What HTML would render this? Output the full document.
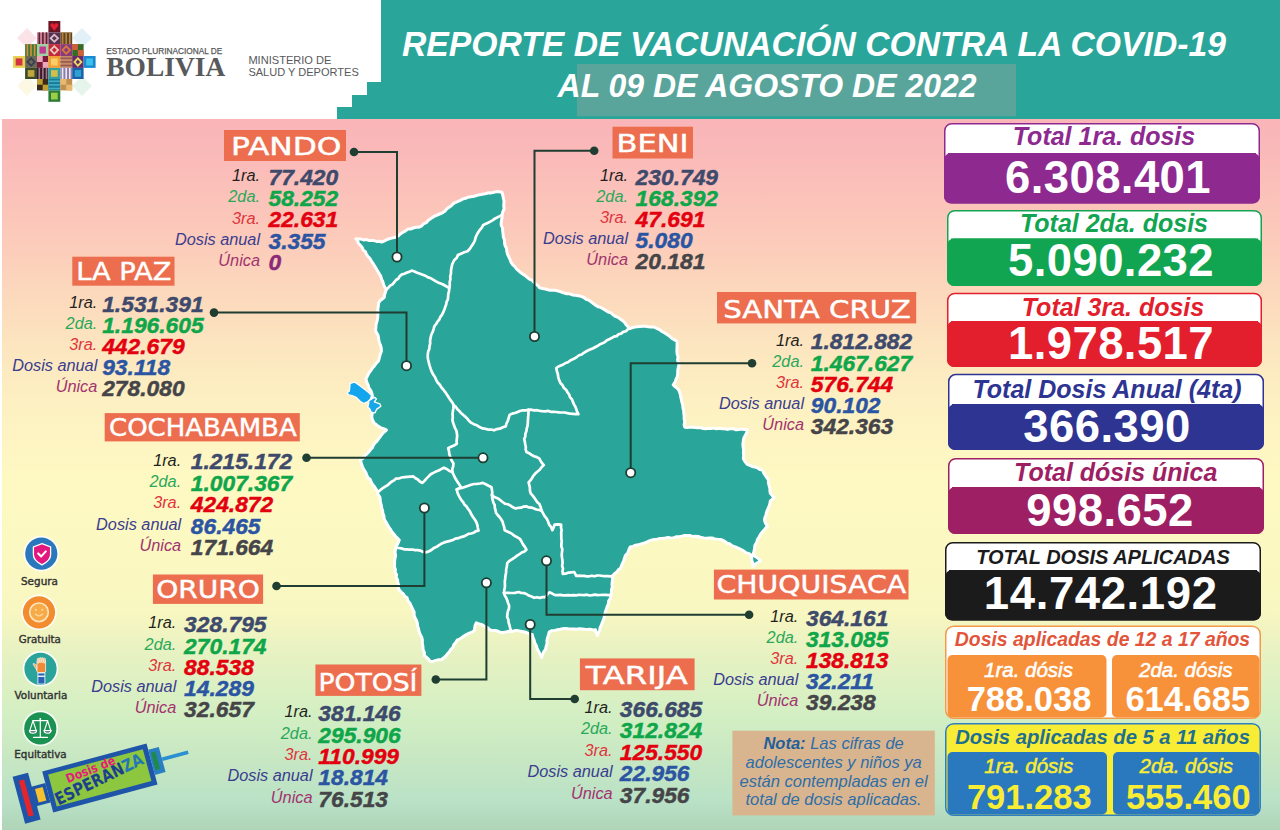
<!DOCTYPE html>
<html><head><meta charset="utf-8"><title>Reporte de Vacunación COVID-19 Bolivia</title>
<style>
html,body{margin:0;padding:0;}
body{width:1280px;height:830px;overflow:hidden;position:relative;background:#fff;font-family:"Liberation Sans",Arial,sans-serif;}
svg{position:absolute;left:0;top:0;display:block;}
</style></head><body>
<svg width="1280" height="830" viewBox="0 0 1280 830">
<defs>
<linearGradient id="bg" x1="0" y1="119" x2="0" y2="830" gradientUnits="userSpaceOnUse">
<stop offset="0" stop-color="#f9b5b8"/>
<stop offset="0.037" stop-color="#fab8b9"/>
<stop offset="0.17" stop-color="#fccbba"/>
<stop offset="0.311" stop-color="#fce4bf"/>
<stop offset="0.395" stop-color="#fdf0c2"/>
<stop offset="0.515" stop-color="#fef9c3"/>
<stop offset="0.691" stop-color="#f9f7c1"/>
<stop offset="0.744" stop-color="#e9f2c2"/>
<stop offset="0.838" stop-color="#d3efc3"/>
<stop offset="0.902" stop-color="#c7e7c3"/>
<stop offset="0.958" stop-color="#bae2c6"/>
<stop offset="1" stop-color="#afd4b8"/>
</linearGradient>
</defs>

<rect x="0" y="0" width="1280" height="830" fill="#fff"/>
<rect x="2" y="119" width="1278" height="711" fill="url(#bg)"/>
<path d="M381,0 H1280 V119 H337 V107 H352 V95 H367 V82 H381 Z" fill="#2aa59a"/>
<rect x="577" y="64" width="439" height="52.2" fill="#5da59c" opacity="0.92"/>
<text x="402" y="55.7" fill="#fff" font-family="Liberation Sans, Arial, sans-serif" font-weight="bold" font-style="italic" font-size="34.5" textLength="824" lengthAdjust="spacingAndGlyphs">REPORTE DE VACUNACIÓN CONTRA LA COVID-19</text>
<text x="557.6" y="97" fill="#fff" font-family="Liberation Sans, Arial, sans-serif" font-weight="bold" font-style="italic" font-size="32.5" textLength="419" lengthAdjust="spacingAndGlyphs">AL 09 DE AGOSTO DE 2022</text>
<g id="logo">
<rect x="20" y="31" width="14" height="14" fill="#f9d0d8" opacity="0.6" transform="rotate(45 27 38)"/>
<rect x="75" y="31" width="14" height="14" fill="#cfe6f2" opacity="0.6" transform="rotate(45 82 38)"/>
<rect x="20" y="79" width="14" height="14" fill="#fbf4d0" opacity="0.6" transform="rotate(45 27 86)"/>
<rect x="75" y="79" width="14" height="14" fill="#d6efe0" opacity="0.6" transform="rotate(45 82 86)"/>
<rect x="48.4" y="21.0" width="11.9" height="11.4" fill="#6a1525"/>
<path d="M54.3,30.7 L50.3,25.7 Q50.3,22.7 52.8,23.2 L54.3,24.7 L55.8,23.2 Q58.3,22.7 58.3,25.7 Z" fill="#e02030"/>
<rect x="37.0" y="32.4" width="11.4" height="11.7" fill="#d87a9a"/>
<rect x="38.5" y="32.4" width="1.6" height="11.7" fill="#4a2a2a"/>
<rect x="42.1" y="32.4" width="1.6" height="11.7" fill="#4a2a2a"/>
<rect x="45.7" y="32.4" width="1.6" height="11.7" fill="#4a2a2a"/>
<rect x="48.4" y="32.4" width="11.9" height="11.7" fill="#5a3050"/>
<path d="M54.3,33.4 L59.3,38.2 L54.3,43.1 L49.4,38.2 Z" fill="#d8c0c8"/>
<path d="M54.3,35.9 L56.8,38.2 L54.3,40.6 L51.9,38.2 Z" fill="#5a3050"/>
<rect x="60.3" y="32.4" width="11.9" height="11.7" fill="#5a4a2a"/>
<rect x="61.8" y="32.4" width="1.6" height="11.7" fill="#c08040"/>
<rect x="65.4" y="32.4" width="1.6" height="11.7" fill="#c08040"/>
<rect x="69.0" y="32.4" width="1.6" height="11.7" fill="#c08040"/>
<rect x="25.1" y="44.1" width="11.9" height="11.9" fill="#3a7a3a"/>
<rect x="26.6" y="44.1" width="1.6" height="11.9" fill="#e08a3a"/>
<rect x="30.2" y="44.1" width="1.6" height="11.9" fill="#e08a3a"/>
<rect x="33.8" y="44.1" width="1.6" height="11.9" fill="#e08a3a"/>
<rect x="37.0" y="44.1" width="11.4" height="11.9" fill="#9fd0a0"/>
<rect x="39.5" y="46.5" width="6.4" height="7.1" fill="#c42a90" opacity="0.9"/>
<rect x="48.4" y="44.1" width="11.9" height="11.9" fill="#c02a3a"/>
<path d="M54.3,45.1 L59.3,50.0 L54.3,55.0 L49.4,50.0 Z" fill="#ecc8b8"/>
<path d="M54.3,47.6 L56.8,50.0 L54.3,52.5 L51.9,50.0 Z" fill="#c02a3a"/>
<rect x="60.3" y="44.1" width="11.9" height="11.9" fill="#8a3a7a"/>
<path d="M66.2,45.1 L71.2,50.0 L66.2,55.0 L61.3,50.0 Z" fill="#d87a3a"/>
<path d="M66.2,47.6 L68.7,50.0 L66.2,52.5 L63.8,50.0 Z" fill="#8a3a7a"/>
<rect x="72.2" y="44.1" width="11.4" height="11.9" fill="#3a6a2a"/>
<rect x="72.2" y="44.1" width="5.7" height="5.9" fill="#d0603a"/>
<rect x="77.9" y="50.0" width="5.7" height="5.9" fill="#d0603a"/>
<rect x="13.1" y="56.0" width="12.0" height="11.9" fill="#e8d050"/>
<rect x="15.7" y="58.4" width="6.7" height="7.1" fill="#d02040" opacity="0.9"/>
<rect x="25.1" y="56.0" width="11.9" height="11.9" fill="#6a6a50"/>
<path d="M31.1,57.0 L36.0,62.0 L31.1,66.9 L26.1,62.0 Z" fill="#3a3a5a"/>
<path d="M31.1,59.5 L33.5,62.0 L31.1,64.4 L28.6,62.0 Z" fill="#6a6a50"/>
<rect x="37.0" y="56.0" width="11.4" height="11.9" fill="#7a1a3a"/>
<rect x="37.0" y="56.0" width="5.7" height="6.0" fill="#eaa8b8"/>
<rect x="42.7" y="62.0" width="5.7" height="6.0" fill="#eaa8b8"/>
<rect x="48.4" y="56.0" width="11.9" height="11.9" fill="#f0a030"/>
<rect x="51.0" y="58.4" width="6.7" height="7.1" fill="#f8d070" opacity="0.9"/>
<rect x="60.3" y="56.0" width="11.9" height="11.9" fill="#c48a70"/>
<rect x="60.3" y="57.5" width="11.9" height="1.6" fill="#9a5a4a"/>
<rect x="60.3" y="61.1" width="11.9" height="1.6" fill="#9a5a4a"/>
<rect x="60.3" y="64.7" width="11.9" height="1.6" fill="#9a5a4a"/>
<rect x="72.2" y="56.0" width="11.4" height="11.9" fill="#6a2a6a"/>
<path d="M77.9,57.0 L82.6,62.0 L77.9,66.9 L73.2,62.0 Z" fill="#e8e060"/>
<path d="M77.9,59.5 L80.1,62.0 L77.9,64.4 L75.7,62.0 Z" fill="#6a2a6a"/>
<rect x="83.6" y="56.0" width="12.0" height="11.9" fill="#1a8ad0"/>
<rect x="86.2" y="58.4" width="6.7" height="7.1" fill="#40c8ec" opacity="0.9"/>
<rect x="25.1" y="67.9" width="11.9" height="11.1" fill="#3a4a2a"/>
<rect x="27.7" y="70.1" width="6.7" height="6.7" fill="#d0b040" opacity="0.9"/>
<rect x="37.0" y="67.9" width="11.4" height="11.1" fill="#3a1a2a"/>
<rect x="38.5" y="67.9" width="1.6" height="11.1" fill="#9a7a8a"/>
<rect x="42.1" y="67.9" width="1.6" height="11.1" fill="#9a7a8a"/>
<rect x="45.7" y="67.9" width="1.6" height="11.1" fill="#9a7a8a"/>
<rect x="48.4" y="67.9" width="11.9" height="11.1" fill="#30a0a0"/>
<rect x="51.0" y="70.1" width="6.7" height="6.7" fill="#e8c040" opacity="0.9"/>
<rect x="60.3" y="67.9" width="11.9" height="11.1" fill="#8a80b0"/>
<rect x="61.8" y="67.9" width="1.6" height="11.1" fill="#f0e8f0"/>
<rect x="65.4" y="67.9" width="1.6" height="11.1" fill="#f0e8f0"/>
<rect x="69.0" y="67.9" width="1.6" height="11.1" fill="#f0e8f0"/>
<rect x="72.2" y="67.9" width="11.4" height="11.1" fill="#1a60a8"/>
<rect x="74.7" y="70.1" width="6.4" height="6.7" fill="#30a8d8" opacity="0.9"/>
<rect x="37.0" y="79.0" width="11.4" height="11.4" fill="#3a2a1a"/>
<rect x="37.0" y="79.0" width="5.7" height="5.7" fill="#c0a030"/>
<rect x="42.7" y="84.7" width="5.7" height="5.7" fill="#c0a030"/>
<rect x="48.4" y="79.0" width="11.9" height="11.4" fill="#1a7a9a"/>
<rect x="48.4" y="80.5" width="11.9" height="1.6" fill="#40b0c0"/>
<rect x="48.4" y="84.1" width="11.9" height="1.6" fill="#40b0c0"/>
<rect x="48.4" y="87.7" width="11.9" height="1.6" fill="#40b0c0"/>
<rect x="60.3" y="79.0" width="11.9" height="11.4" fill="#c09050"/>
<rect x="60.3" y="79.0" width="6.0" height="5.7" fill="#e8b870"/>
<rect x="66.2" y="84.7" width="6.0" height="5.7" fill="#e8b870"/>
<rect x="48.4" y="90.4" width="11.9" height="11.4" fill="#2a7a3a"/>
<rect x="51.0" y="92.7" width="6.7" height="6.8" fill="#a8d848" opacity="0.9"/>
</g>
<text x="106.3" y="53.7" fill="#58595b" stroke="#58595b" stroke-width="0.25" font-family="Liberation Sans, Arial, sans-serif" font-size="8.8" textLength="116" lengthAdjust="spacingAndGlyphs">ESTADO PLURINACIONAL DE</text>
<text x="106.3" y="75.9" fill="#58595b" font-family="Liberation Serif, Times New Roman, serif" font-weight="bold" font-size="28" textLength="119" lengthAdjust="spacingAndGlyphs">BOLIVIA</text>
<text x="248.4" y="64.3" fill="#58595b" font-family="Liberation Sans, Arial, sans-serif" font-size="11.3" textLength="83" lengthAdjust="spacingAndGlyphs">MINISTERIO DE</text>
<text x="248.4" y="76.3" fill="#58595b" font-family="Liberation Sans, Arial, sans-serif" font-size="11.3" textLength="110.4" lengthAdjust="spacingAndGlyphs">SALUD Y DEPORTES</text>
<polygon points="355.8,238.8 358.4,238.9 361,239.1 363.6,239.9 366.3,239.6 368.8,240.4 371.4,240.6 374.1,240.6 376.6,241.4 379.3,241.2 381.8,242 384.5,240.9 387.1,239.5 389.8,238.5 392.7,237.9 395.6,237.3 398.2,235.9 400.4,233.9 402.8,232.3 405.5,230.9 407.8,229.1 410.6,229 413.2,228 415.9,227.2 418.7,227.3 421.3,226.2 423.4,223.9 426.3,222.7 428.4,220.2 430.9,218.5 433.6,216.7 436.5,215.3 439.5,214 442.5,212.8 445,211.1 446.9,208.7 449.5,207 451.8,205.2 454,203.1 456.8,201.8 459.8,200.7 462.5,199.1 465.6,198.3 468.1,197.2 470.7,196.7 473.3,196.6 475.8,195.7 478.4,194.9 481,194.5 483.6,194.1 486.1,193.5 488.7,192.8 491.3,192.9 493.9,192.3 496.4,191.6 499.3,191.8 502.2,192.5 502.8,195.4 503.4,198.3 504.1,201.2 503.7,205.1 504.1,208.9 502.9,211.7 502.2,214.7 501.9,218.6 501.2,222.4 501.2,225.4 502.6,228.1 502.7,231.1 503.1,234 503.3,236.9 504.4,239.7 504.5,242.6 505,245.5 506.5,248.2 506.8,251.4 507.6,254.3 508.9,257.1 510.1,259.7 511.1,262.4 512.8,264.8 514.9,266.6 516.5,268.8 518.5,270.6 520.5,272.5 522.8,274.1 525.1,275.5 527.2,277.4 529.4,279.1 532,280.2 533.9,282.1 535.7,284.2 538.1,285.6 539.7,287.9 542.6,288.6 545.5,289 548.3,289.9 551.2,290.2 554.2,290.1 557.1,290.8 560.3,291.6 563.4,292.9 566.7,293.7 569.7,293.8 572.5,294.9 575.4,295.2 578.3,295.8 581.2,296.4 584,297.5 586.2,299.3 588.9,300.2 591.1,301.9 593.3,303.6 595.6,305.2 598,306.8 600.9,307.4 603.3,309 605.8,310.4 608.2,312 611,312.9 613.1,314.8 615.4,316.4 618.1,317.4 620.3,319.1 622.6,320.7 624.6,322.5 626.2,324.8 628,326.8 630.3,328.4 633.4,327.4 636.6,326.7 639.9,326.4 642.7,326.2 645.5,326.3 648.3,326.7 651.1,327 653.9,327 656.7,328.3 659.6,329.6 662,331.5 664.8,333 667.4,334.7 669.8,336.4 672,338.5 674.6,339.9 677.1,341.4 677.1,344.5 677,347.7 676.9,350.9 677.1,354 678.1,356.8 677.6,359.8 678.2,362.7 679,365.5 678.1,368.3 677.7,371.2 677.7,374.2 677.1,377.1 675.9,379.7 674.9,382.4 673.2,384.8 675,386.8 677.4,388.3 679,390.6 680.1,393.4 680.6,396.3 681.3,399.2 681.8,402.1 682.7,404.9 682.9,407.9 683.7,410.6 683.8,413.4 684.2,416.1 684.1,418.9 684.8,421.6 684.1,424.5 684.8,427.2 687.4,427.5 690.1,427.1 692.7,427.3 695.3,427.5 697.9,427.7 700.6,427.5 703.2,428.5 705.8,428.7 708.4,428.3 711.1,428.4 713.7,428.1 716.3,428.7 719.1,428.3 721.9,428.7 724.7,428.7 727.5,429.4 730.4,428.7 733.2,428.7 735.9,429.8 738.8,429.4 741.6,429 744.4,429.6 747.2,429.6 746.7,432.7 745.2,435.4 743.8,438.1 743.3,441.2 742.9,444.1 743.1,447 743.6,449.9 743.4,452.7 743.7,455.6 743.3,458.5 745,461.6 747.2,464.3 749.8,465.3 752.2,466.5 755,467 757.6,467.9 759.9,469.5 762.6,470.1 763.6,472.8 765.2,475.1 766.7,477.5 768.4,479.7 768.4,482.4 768.9,485.1 769.8,487.8 769.9,490.5 770.3,493.2 772.3,495.5 774.1,498 770.3,500.9 769.8,504 768.8,506.9 767.6,509.7 766.4,512.5 766,515.1 764.9,517.6 764.5,520.2 765.5,523.3 767.4,526 765,528.9 762.6,531.8 760.6,534.2 759.1,536.9 757.5,539.6 756.6,542.6 754.9,545.2 754.5,548.5 753.9,551.7 752.9,554.9 755.7,556.6 758.3,558.5 760.7,560.7 758,562.5 755.2,564.1 752.9,566.4 752.8,563.5 751.9,560.7 751.6,557.7 751,554.9 748.8,553.4 746.1,552.9 744,551.2 741.7,549.8 739.3,548.7 736.9,547.5 734.4,546.6 731.9,545.7 729.8,544 727.2,543.2 725.1,541.6 722.8,540.2 720.2,539.5 717.5,539.3 714.7,539 712.1,538 709.3,538 706.5,538.2 703.8,538 701,537.6 698.4,536.5 695.6,536.2 692.8,536.6 690.2,535.6 687.4,535.6 684.6,535.4 681.9,536.1 679.2,536.7 676.5,536.8 673.8,537.6 671.1,538.1 668.3,537.4 665.6,538 662.9,538.5 660.1,538.4 657.4,539.2 654.7,539.5 651.9,539.9 649.2,540.8 646.6,542.3 643.9,543.1 641.2,543.9 638.5,544.8 635.6,545.2 633,546.4 630.2,547 628.8,549.9 627.7,552.9 625.4,555.4 624.4,558.5 623.6,561 622.5,563.4 621.5,565.7 620.6,568.2 618.4,569.8 616.8,572.1 614.5,573.7 612.9,575.9 612.6,578.6 612.3,581.4 612,584.1 612.3,586.9 611.5,589.6 611.5,592.4 610.9,595.1 610.5,598.2 608.7,600.8 608.4,603.9 607.1,606.7 606.3,609.4 605.3,612 604.7,614.8 604.2,617.6 603.2,620.2 602.2,622.8 601.2,625.3 600,627.8 599.7,630.6 598.3,633 597.4,635.6 596.2,632.8 595.5,629.8 592.8,629.9 590.1,629.3 587.4,629.5 584.7,629.3 582,629 579.3,628.7 576.5,629.2 573.8,628.9 571.1,628.9 568.4,628.8 565.7,628.5 563,628.6 560.3,629.3 557.5,629.8 554.8,630.5 551.9,630.7 549.3,631.8 548.5,634.7 547.6,637.6 546.9,640.5 547,643.7 546.1,646.5 545.5,649.5 543.7,651.9 542.5,654.7 541.5,657.5 539.5,653 538.1,650.6 537,648 536.2,645.3 534.7,642.9 534.1,640.2 532.9,637.4 532.2,634.4 529.2,633.9 526.4,632.5 523.6,631.8 520.7,631.2 517.8,630.6 514.9,630.6 512.1,631.5 509.1,631.3 506.2,631.9 503.3,632.5 500.4,632.4 497.6,631.1 494.8,630.6 491.8,630.6 489.2,629.4 487.2,627.3 484.5,626.3 482.1,624.8 479.2,623.9 476.3,622.9 475.1,625.3 474.7,627.9 474.4,630.6 472,632.2 469.3,633.2 466.7,634.4 464.3,635.8 462,637.5 459.7,639 457.1,640.2 455.7,642.6 453.8,644.7 452.9,647.5 450.9,649.4 449.4,651.8 447.5,653.8 445.9,656 443.8,657.7 441.7,659.5 438.8,659.8 435.9,660.4 433.1,661.4 430.1,661.4 428.5,659.1 426.5,657.3 424.3,655.6 424.4,652.5 423.1,649.5 422.9,646.4 422.3,643.3 422.4,640.2 421.7,637.2 420.2,634.5 419.1,631.6 418.5,628.6 417.6,625.9 417.3,623 416.4,620.3 415,617.7 414.1,615 414.1,612 412.8,609.4 411.4,606.5 410.1,603.5 408,600.9 407,597.8 404.7,596.2 403.3,593.8 401.2,592.1 399.3,590.1 398.3,587.6 398.7,584.9 397.8,582.4 397.5,579.8 396.2,577.4 396.5,574.6 395.1,572.2 395.4,569.5 394.5,567 394.6,564.1 394.6,561.2 395,558.3 395.6,555.4 395,552.5 395.4,549.6 396.3,546.2 398,543.2 399.3,540 397.4,538.1 395.5,536.2 393.9,534.1 392,532.1 390.7,529.7 388.8,527.1 387.3,524.4 385.6,521.6 384.2,518.8 383.9,516 382.9,513.4 382.6,510.7 381.7,508 381.3,505.3 380.5,502.6 380.2,499.9 379.9,497.1 378,494.5 377.3,491.3 375.6,488.5 374.2,486.3 372.4,484.3 371.2,482 370.2,479.5 368,477.8 366.9,475.4 365.7,472.4 363.9,469.7 362.5,466.8 361.4,463.6 360.4,460.3 362.8,458.4 364.6,455.9 366.9,453.8 369,451.6 370.6,449.5 372.4,447.6 373.4,445.1 375,442.8 377.1,441 378.7,438.7 380.4,436.5 382,434.2 384.1,432 386.4,430 383.4,428.7 380.3,427.6 377.6,425.7 374,422.8 372.5,420 371.8,417 372.1,413.6 373.3,410.5 373.3,407.6 372.5,404.7 372.2,401.8 371.8,398.9 372.4,396 371.8,393.1 370.7,390.3 368.9,388 368.1,384.8 366.7,381.9 366,378.7 367.5,375.8 368.9,373 370.8,370.6 372.5,368 374.6,365.7 376.3,363.1 378.5,360.9 379.4,357.7 380.2,354.4 381.4,351.3 381.3,348.5 380.7,345.8 379.7,343.2 378.8,340.6 378.5,337.8 378,335.1 376.4,332.7 375.6,330.1 375.9,327.2 376.1,324.2 377,321.4 377.6,318.5 377.8,315.4 378,312.3 377.8,309.2 378.3,306.2 378.5,303.1 380,300.8 382.2,299 384.3,297.3 384.5,294.6 385.5,292.1 386.2,289.6 384.7,287.1 383.6,284.5 382.8,281.7 381.6,279.1 380.8,276.3 379.3,273.7 377.6,271.1 376.2,268.5 374.5,265.9 373,263.3 371.2,260.9 370,258.5 368,256.5 366.4,254.4 365.5,251.8 363.2,250.1 362.2,247.5 360.5,245.3 358.5,243.5 357.6,240.8" fill="#2aa59a" stroke="#fff" stroke-width="3" stroke-linejoin="round"/>
<polyline points="502.2,214.7 499.9,216.1 497.6,217.3 495.1,218.4 493,220.1 490.7,221.4 488.1,222.7 485.5,223.9 483,225.3 481.8,227.6 480.1,229.6 478.6,231.8 477.2,234 475.7,237.1 474.9,240.5 473.3,243.6 471.5,246.3 469.7,249 467.5,251.3 464.2,252.3 461,253.7 457.9,255.1 456.8,257.7 454.6,259.7 453.2,262.2 452.1,264.8 451.5,267.7 451,270.5 451,273.5 450.2,276.3 450.4,279.2 449.7,282.1 449.8,285 449.2,287.9" fill="none" stroke="#fff" stroke-width="2.7" stroke-linejoin="round" stroke-linecap="round"/>
<polyline points="449.2,287.9 446.6,286.5 444,285 441.4,283.7 438.6,282.7 435.9,281.4 433.5,279.8 430.9,278.3 428.1,277.4 425.5,275.8 422.7,274.8 420,273.8 417.2,272.8 414.5,271.6 411.7,270.6 409.4,271.8 406.9,272.6 404.5,273.7 402,274.4 399.8,276.1 398.4,278.5 396,280 394.3,282.1 392.5,284.3 390.1,285.7 388.3,287.8 386.2,289.6" fill="none" stroke="#fff" stroke-width="2.7" stroke-linejoin="round" stroke-linecap="round"/>
<polyline points="449.2,287.9 449.1,290.8 448.4,293.6 448.1,296.4 447.9,299.3 446.6,301.8 446.2,304.5 445.2,307.1 444.3,309.7 443.3,312.2 442.1,314.7 440.4,316.9 439.3,319.5 437.5,321.6 436.2,324 434.4,326.2 433.6,329.2 432.6,332 431.3,334.8 430.6,337.8 430.1,340.5 430.2,343.4 429.6,346.1 429.3,348.9 428.2,351.5 427.8,354.3 427.7,357.1 428.2,360 428.9,362.9 429.7,365.8 430.6,368.6 431.7,371.7 433.2,374.5 435.1,377.2 436.3,380.2 437.8,382.7 439.8,384.8 441.3,387.3 443.2,389.5 445,391.8 446.5,394 448,396.2 449.4,398.5 450.9,400.6 452.5,402.8 453.7,405.2" fill="none" stroke="#fff" stroke-width="2.7" stroke-linejoin="round" stroke-linecap="round"/>
<polyline points="453.7,405.2 455.9,406.9 457.4,409.2 459.4,411.1 461.1,413.2 463.3,414.9 465.4,416.7 467.3,418.6 468.9,420.8 471,422.6 473.8,424.2 476.9,425.3 479.6,427.1 482.6,428.4 485.5,428.8 488.3,429.6 491.3,429.5 494.1,430.3 496.9,429.1 500,428.7 502.8,427.3 505.7,426.4 506.5,423.5 507.9,420.7 508.7,417.8 509.6,414.9 512.1,413.6 514.8,413 517.5,412.1 520,411 522.8,410.3 525.8,410.3 528.6,409.8" fill="none" stroke="#fff" stroke-width="2.7" stroke-linejoin="round" stroke-linecap="round"/>
<polyline points="630.3,328.4 627.8,329.3 625.9,331.2 623.2,331.9 621.1,333.6 618.5,334.2 616.6,336.2 613.9,336.7 611.6,338.1 609.2,339.2 606.9,340.3 604.9,342.1 602.5,343.3 600,344.2 597.9,345.8 595.5,347 593.2,348.3 590.8,349.3 588.3,350.3 586,351.5 583.8,352.8 581.7,354.5 579.1,355.2 577,356.8 574.8,358.3 572.4,359.4 570.1,360.6 568,362.2 565.5,363 563.3,364.5 560.9,365.5 558.4,366.5 556.3,368.1 556.9,371.3 557.9,374.3 558.3,377.6 559.4,380.6 560.6,383.2 562.6,385.3 563.8,387.9 566.1,389.8 567.5,392.2 569.1,394.5 570.1,397.3 572,399.4 572.9,401.9 574,404.4 575.4,406.7 576.3,409.2 577.1,411.8 578.5,414.1 575.7,414.2 572.9,413.9 570.1,413.7 567.4,413.1 564.7,412.5 561.9,412.5 559.1,412.4 556.3,412 553.5,411.8 550.7,411.8 548,410.9 545.2,411.3 542.4,411.1 539.7,410.8 536.9,410.2 534.1,410.4 531.4,409.7 528.6,409.8" fill="none" stroke="#fff" stroke-width="2.7" stroke-linejoin="round" stroke-linecap="round"/>
<polyline points="528.6,409.8 528.5,412.5 528.3,415.2 528.1,417.9 527.9,420.6 527.8,423.3 527.5,426 526.7,428.6 526.4,431.3 525.4,433.8 525.3,436.5 524.2,439 524.8,441.6 525.2,444.2 525.8,446.7 525.7,449.4 526.4,452 529.1,453.2 531.5,454.9 534,456.3 536.9,457.1 539.4,458.6 540.6,461 542.1,463.1 543.8,465.1 541.5,467.2 539.7,469.8 537.2,471.7 535,473.8 533.3,475.9 531.9,478.2 530.4,480.4 528.6,482.4 529.3,485.1 529.9,487.8 529.9,490.6 530.7,493.3 532.5,495.4 534.2,497.6 535.8,499.9 537.3,502.2 539.4,504.1 540.7,507.3 541.6,510.6" fill="none" stroke="#fff" stroke-width="2.7" stroke-linejoin="round" stroke-linecap="round"/>
<polyline points="453.7,405.2 453.4,408.2 452.9,411.1 452.5,414 452.8,417.1 452.4,420 453.1,422.7 454,425.3 454.9,427.8 456.3,430.3 456.8,433 457.2,435.7 456.9,438.4 456.6,441.2 456.8,443.9 454,445.5 451,446.8 448.1,448.2 449,451.1 449.3,454.1 450.3,456.9 451.5,460.3 453.5,463.4 453.2,466.3 452.3,469.1 452.4,472.1" fill="none" stroke="#fff" stroke-width="2.7" stroke-linejoin="round" stroke-linecap="round"/>
<polyline points="452.4,472.1 449.4,470.9 446.7,469 443.8,467.7 441.2,469.1 438.7,470.5 435.9,471.6 433.3,472.9 430.7,474.2 428.6,476.4 426.4,478.6 424.4,480.9 422.1,482.9 419.8,481.5 417.9,479.5 415.5,478.2 413.4,476.4 410.5,476.6 407.6,476.9 404.7,477.2 401.7,477.5 398.9,478.5 396,478.6 394,480.4 391.5,481.7 389.5,483.4 387.5,485.3 385.1,486.6 382.8,488.1 380.7,489.7 378.7,491.6" fill="none" stroke="#fff" stroke-width="2.7" stroke-linejoin="round" stroke-linecap="round"/>
<polyline points="452.4,472.1 453.7,475 455.1,478 456.8,480.7 458.9,484 461.1,487.2 456.8,489.4" fill="none" stroke="#fff" stroke-width="2.7" stroke-linejoin="round" stroke-linecap="round"/>
<polyline points="456.8,489.4 457.5,492.8 458.9,495.9 460.2,498.2 461.6,500.4 463.3,502.4 464.6,504.8 466.7,506.6 468.1,509 469.8,511.1 471.1,514 472.8,516.7 474.6,519.3 476.3,522 477.3,524.8 477.8,527.7 478.5,530.6 475.9,531.1 473.7,532.8 471.1,533.5 468.4,533.9 466.1,535.3 463.7,536.4 461.1,537.1 458.4,538.2 455.4,538.6 452.8,540 450,540.9 447.1,541.6 444.3,542.4 441.6,543.6 439.1,545.1 436.7,546.8 434,547.9 431.7,549.8 429.1,551.2 426.4,552.3 423.4,551.9 420.6,550.7 417.7,550.2 415,550.1 412.3,549.5 409.5,549.7 406.8,549.4 404.1,549.3 401.4,548.4 398.7,548 396,548" fill="none" stroke="#fff" stroke-width="2.7" stroke-linejoin="round" stroke-linecap="round"/>
<polyline points="456.8,489.4 459.6,488.2 462.6,487.8 465.5,486.8 468.3,485.8 471.1,484.7 474.1,484 477,483.9 479.9,483.5 482.8,482.9 485.7,484.3 488.6,485.8 491.5,487.2 491.9,489.8 492.3,492.4 492,495" fill="none" stroke="#fff" stroke-width="2.7" stroke-linejoin="round" stroke-linecap="round"/>
<polyline points="492,495 494.4,497.1 497.4,498.2 500.1,499.9 502.5,502 504.9,503.7 507.9,504.3 510.5,505.6 512.9,507.3 515.6,508.5 518.3,507.8 521.1,507.7 523.7,506.6 526.4,506.3 528.8,507.4 531.5,507.6 534,508.5 536.4,509.5 539,510 541.6,510.6" fill="none" stroke="#fff" stroke-width="2.7" stroke-linejoin="round" stroke-linecap="round"/>
<polyline points="492,495 492.2,497.6 492.7,500.2 493.4,502.7 494.7,505.1 494.8,507.7 495.5,510.2 496,512.8 497.6,515 499.5,517 501.1,519.2 502.5,521.5 503.3,524.4 504.2,527.2 504.7,530.2 507.3,531.6 510,532.7 512.5,534.2 514.7,536.1 517.4,537.3 519.9,538.8 521.5,541.5 523,544.4 524.9,546.9 526.4,549.7 524.3,551.6 521.7,552.5 519.5,554.2 517.1,555.7 514.9,557.3 512.3,559.1 509.5,560.8 507.2,563.1 506.9,566.2 506.2,569.2 506.1,572.4 505.5,575.4 505.2,578.5 504.8,581.4 504.9,584.3 504.9,587.2 504.3,590.1 504,593" fill="none" stroke="#fff" stroke-width="2.7" stroke-linejoin="round" stroke-linecap="round"/>
<polyline points="541.6,510.6 543.1,513.4 544.6,516.2 546.7,518.6 548.1,521.5 549.1,524.6 551.2,527.2 552.4,530.2 553.6,527.5 554.6,524.7 557.9,524.3 561.1,524.7 561,527.4 561.6,530.2 561.2,532.9 561.3,535.6 561.3,538.4 561.7,541.1 561.4,543.8 561.4,546.6 562.3,549.3 562,552 561.7,554.8 562,557.5 562.4,560.2 562.6,563 562.1,565.7 563,568.4 562.5,571.2 562.8,573.9 565.7,573.7 568.5,572.6 571.4,572.3 574.3,572 576.2,575.9 578.8,575.7 581.4,575.9 584.1,575.8 586.7,576.3 589.3,576.3 591.9,575.7 594.5,576.3 597.2,575.5 599.8,575.5 602.4,576 605,576.2 607.7,576.2 610.3,576.3 612.9,575.9" fill="none" stroke="#fff" stroke-width="2.7" stroke-linejoin="round" stroke-linecap="round"/>
<polyline points="504,593 507.5,592.9 511,593 514.9,592.9 518.7,592 521.2,593 523.9,593.1 526.4,594 528.8,595.6 531.5,596.6 534.1,597.8 536.9,597.2 539.8,597.9 542.6,597.1 545.4,597.1 547.2,594.6 549.3,592.3 552.2,593.6 555,595.1 557.7,595.2 560.3,594.8 563,595.3 565.6,595.4 568.3,595.1 571,595.4 573.6,595.2 576.3,595.4 579,594.8 581.6,595 584.3,595.1 586.9,594.7 589.6,595.5 592.3,595.2 594.9,594.7 597.6,595.2 600.3,595 602.9,594.8 605.6,594.8 608.2,595.1 610.9,595.1" fill="none" stroke="#fff" stroke-width="2.7" stroke-linejoin="round" stroke-linecap="round"/>
<polyline points="504,593 504.8,595.6 506.3,597.9 507.3,600.4 508,603 509.1,605.5 509,608.5 507.9,611.3 507.4,614.2 507.2,617.1 508.4,619.7 508.6,622.5 509.5,625.2 510.1,627.9 511,630.6" fill="none" stroke="#fff" stroke-width="2.7" stroke-linejoin="round" stroke-linecap="round"/>
<polygon points="368.9,400.7 374.7,397.3 376.5,398.9 374.3,401.8 379.8,403.8 380.9,406.2 376.5,409.4 375.1,412.8 371.1,412.1 369.6,408.5 367.8,407.2 368.6,404" fill="#17a6ea" stroke="#fff" stroke-width="1.3" stroke-linejoin="round"/>
<polygon points="350.1,383.4 354.5,382.1 358.1,384.5 363.9,388.8 368.9,392.8 371.5,395.7 370.4,398.9 367.5,401.8 363.9,403.4 360.2,401.2 356.6,397.6 352.3,395.5 348.7,394.9 347.2,392.8 349.4,391 349.8,387.4" fill="#14a6ec" stroke="#fff" stroke-width="1.2" stroke-linejoin="round"/>
<polyline points="354,152 397,152 397,257" fill="none" stroke="#1f3d31" stroke-width="2"/>
<circle cx="354" cy="152" r="4.3" fill="#1f3d31"/>
<circle cx="397" cy="257" r="4.6" fill="#fff" stroke="#1f3d31" stroke-width="1.8"/>
<polyline points="594.2,150.8 534.5,150.8 534.5,336.5" fill="none" stroke="#1f3d31" stroke-width="2"/>
<circle cx="594.2" cy="150.8" r="4.3" fill="#1f3d31"/>
<circle cx="534.5" cy="336.5" r="4.6" fill="#fff" stroke="#1f3d31" stroke-width="1.8"/>
<polyline points="214,312.6 406.5,312.6 406.5,365.7" fill="none" stroke="#1f3d31" stroke-width="2"/>
<circle cx="214" cy="312.6" r="4.3" fill="#1f3d31"/>
<circle cx="406.5" cy="365.7" r="4.6" fill="#fff" stroke="#1f3d31" stroke-width="1.8"/>
<polyline points="306.5,457.8 483,457.8" fill="none" stroke="#1f3d31" stroke-width="2"/>
<circle cx="306.5" cy="457.8" r="4.3" fill="#1f3d31"/>
<circle cx="483" cy="457.8" r="4.6" fill="#fff" stroke="#1f3d31" stroke-width="1.8"/>
<polyline points="276.5,586 424.4,586 424.4,508" fill="none" stroke="#1f3d31" stroke-width="2"/>
<circle cx="276.5" cy="586" r="4.3" fill="#1f3d31"/>
<circle cx="424.4" cy="508" r="4.6" fill="#fff" stroke="#1f3d31" stroke-width="1.8"/>
<polyline points="435.8,679.5 486.4,679.5 486.4,582.8" fill="none" stroke="#1f3d31" stroke-width="2"/>
<circle cx="435.8" cy="679.5" r="4.3" fill="#1f3d31"/>
<circle cx="486.4" cy="582.8" r="4.6" fill="#fff" stroke="#1f3d31" stroke-width="1.8"/>
<polyline points="752,363.2 630.7,363.2 630.7,472.7" fill="none" stroke="#1f3d31" stroke-width="2"/>
<circle cx="752" cy="363.2" r="4.3" fill="#1f3d31"/>
<circle cx="630.7" cy="472.7" r="4.6" fill="#fff" stroke="#1f3d31" stroke-width="1.8"/>
<polyline points="749.1,614.8 546.5,614.8 546.5,560.8" fill="none" stroke="#1f3d31" stroke-width="2"/>
<circle cx="749.1" cy="614.8" r="4.3" fill="#1f3d31"/>
<circle cx="546.5" cy="560.8" r="4.6" fill="#fff" stroke="#1f3d31" stroke-width="1.8"/>
<polyline points="574.7,699 530.2,699 530.2,624.5" fill="none" stroke="#1f3d31" stroke-width="2"/>
<circle cx="574.7" cy="699" r="4.3" fill="#1f3d31"/>
<circle cx="530.2" cy="624.5" r="4.6" fill="#fff" stroke="#1f3d31" stroke-width="1.8"/>
<rect x="224" y="130" width="122.0" height="31.0" fill="#ec6e4e"/>
<text x="231.0" y="155" fill="#fff" stroke="#fff" stroke-width="0.45" font-family="DejaVu Sans, Verdana, sans-serif" font-size="25" textLength="110.5" lengthAdjust="spacingAndGlyphs">PANDO</text>
<text x="260" y="181.1" text-anchor="end" fill="#231f20" font-family="Liberation Sans, Arial, sans-serif" font-style="italic" font-size="16.3">1ra.</text>
<text x="268.5" y="185.0" fill="#3e4a6c" stroke="#3e4a6c" stroke-width="0.45" font-family="Liberation Sans, Arial, sans-serif" font-style="italic" font-weight="bold" font-size="22.8">77.420</text>
<text x="260" y="202.3" text-anchor="end" fill="#2aa85a" font-family="Liberation Sans, Arial, sans-serif" font-style="italic" font-size="16.3">2da.</text>
<text x="268.5" y="206.2" fill="#0fa64a" stroke="#0fa64a" stroke-width="0.45" font-family="Liberation Sans, Arial, sans-serif" font-style="italic" font-weight="bold" font-size="22.8">58.252</text>
<text x="260" y="223.5" text-anchor="end" fill="#e0343c" font-family="Liberation Sans, Arial, sans-serif" font-style="italic" font-size="16.3">3ra.</text>
<text x="268.5" y="227.4" fill="#e3000f" stroke="#e3000f" stroke-width="0.45" font-family="Liberation Sans, Arial, sans-serif" font-style="italic" font-weight="bold" font-size="22.8">22.631</text>
<text x="260" y="244.7" text-anchor="end" fill="#3a3d8f" font-family="Liberation Sans, Arial, sans-serif" font-style="italic" font-size="16.3">Dosis anual</text>
<text x="268.5" y="248.6" fill="#2b55a3" stroke="#2b55a3" stroke-width="0.45" font-family="Liberation Sans, Arial, sans-serif" font-style="italic" font-weight="bold" font-size="22.8">3.355</text>
<text x="260" y="265.9" text-anchor="end" fill="#a3336f" font-family="Liberation Sans, Arial, sans-serif" font-style="italic" font-size="16.3">Única</text>
<text x="268.5" y="269.8" fill="#8b2a78" stroke="#8b2a78" stroke-width="0.45" font-family="Liberation Sans, Arial, sans-serif" font-style="italic" font-weight="bold" font-size="22.8">0</text>
<rect x="612.5" y="126.7" width="80.5" height="31.8" fill="#ec6e4e"/>
<text x="616.5" y="151.8" fill="#fff" stroke="#fff" stroke-width="0.45" font-family="DejaVu Sans, Verdana, sans-serif" font-size="25" textLength="72.0" lengthAdjust="spacingAndGlyphs">BENI</text>
<text x="628" y="180.6" text-anchor="end" fill="#231f20" font-family="Liberation Sans, Arial, sans-serif" font-style="italic" font-size="16.3">1ra.</text>
<text x="635.6" y="184.5" fill="#3e4a6c" stroke="#3e4a6c" stroke-width="0.45" font-family="Liberation Sans, Arial, sans-serif" font-style="italic" font-weight="bold" font-size="22.8">230.749</text>
<text x="628" y="201.8" text-anchor="end" fill="#2aa85a" font-family="Liberation Sans, Arial, sans-serif" font-style="italic" font-size="16.3">2da.</text>
<text x="635.6" y="205.7" fill="#0fa64a" stroke="#0fa64a" stroke-width="0.45" font-family="Liberation Sans, Arial, sans-serif" font-style="italic" font-weight="bold" font-size="22.8">168.392</text>
<text x="628" y="223.0" text-anchor="end" fill="#e0343c" font-family="Liberation Sans, Arial, sans-serif" font-style="italic" font-size="16.3">3ra.</text>
<text x="635.6" y="226.9" fill="#e3000f" stroke="#e3000f" stroke-width="0.45" font-family="Liberation Sans, Arial, sans-serif" font-style="italic" font-weight="bold" font-size="22.8">47.691</text>
<text x="628" y="244.2" text-anchor="end" fill="#3a3d8f" font-family="Liberation Sans, Arial, sans-serif" font-style="italic" font-size="16.3">Dosis anual</text>
<text x="635.6" y="248.1" fill="#2b55a3" stroke="#2b55a3" stroke-width="0.45" font-family="Liberation Sans, Arial, sans-serif" font-style="italic" font-weight="bold" font-size="22.8">5.080</text>
<text x="628" y="265.4" text-anchor="end" fill="#a3336f" font-family="Liberation Sans, Arial, sans-serif" font-style="italic" font-size="16.3">Única</text>
<text x="635.6" y="269.3" fill="#454549" stroke="#454549" stroke-width="0.45" font-family="Liberation Sans, Arial, sans-serif" font-style="italic" font-weight="bold" font-size="22.8">20.181</text>
<rect x="72.3" y="256.7" width="102.2" height="29.0" fill="#ec6e4e"/>
<text x="76.2" y="279.9" fill="#fff" stroke="#fff" stroke-width="0.45" font-family="DejaVu Sans, Verdana, sans-serif" font-size="25" textLength="95.2" lengthAdjust="spacingAndGlyphs">LA PAZ</text>
<text x="97.3" y="308.2" text-anchor="end" fill="#231f20" font-family="Liberation Sans, Arial, sans-serif" font-style="italic" font-size="16.3">1ra.</text>
<text x="102.2" y="312.1" fill="#3e4a6c" stroke="#3e4a6c" stroke-width="0.45" font-family="Liberation Sans, Arial, sans-serif" font-style="italic" font-weight="bold" font-size="22.8">1.531.391</text>
<text x="97.3" y="329.2" text-anchor="end" fill="#2aa85a" font-family="Liberation Sans, Arial, sans-serif" font-style="italic" font-size="16.3">2da.</text>
<text x="102.2" y="333.1" fill="#0fa64a" stroke="#0fa64a" stroke-width="0.45" font-family="Liberation Sans, Arial, sans-serif" font-style="italic" font-weight="bold" font-size="22.8">1.196.605</text>
<text x="97.3" y="350.2" text-anchor="end" fill="#e0343c" font-family="Liberation Sans, Arial, sans-serif" font-style="italic" font-size="16.3">3ra.</text>
<text x="102.2" y="354.1" fill="#e3000f" stroke="#e3000f" stroke-width="0.45" font-family="Liberation Sans, Arial, sans-serif" font-style="italic" font-weight="bold" font-size="22.8">442.679</text>
<text x="97.3" y="371.2" text-anchor="end" fill="#3a3d8f" font-family="Liberation Sans, Arial, sans-serif" font-style="italic" font-size="16.3">Dosis anual</text>
<text x="102.2" y="375.1" fill="#2b55a3" stroke="#2b55a3" stroke-width="0.45" font-family="Liberation Sans, Arial, sans-serif" font-style="italic" font-weight="bold" font-size="22.8">93.118</text>
<text x="97.3" y="392.2" text-anchor="end" fill="#a3336f" font-family="Liberation Sans, Arial, sans-serif" font-style="italic" font-size="16.3">Única</text>
<text x="102.2" y="396.1" fill="#454549" stroke="#454549" stroke-width="0.45" font-family="Liberation Sans, Arial, sans-serif" font-style="italic" font-weight="bold" font-size="22.8">278.080</text>
<rect x="104.7" y="413.1" width="195.1" height="28.3" fill="#ec6e4e"/>
<text x="109.0" y="435.7" fill="#fff" stroke="#fff" stroke-width="0.45" font-family="DejaVu Sans, Verdana, sans-serif" font-size="25" textLength="187.7" lengthAdjust="spacingAndGlyphs">COCHABAMBA</text>
<text x="181.2" y="465.5" text-anchor="end" fill="#231f20" font-family="Liberation Sans, Arial, sans-serif" font-style="italic" font-size="16.3">1ra.</text>
<text x="190.8" y="469.4" fill="#3e4a6c" stroke="#3e4a6c" stroke-width="0.45" font-family="Liberation Sans, Arial, sans-serif" font-style="italic" font-weight="bold" font-size="22.8">1.215.172</text>
<text x="181.2" y="486.9" text-anchor="end" fill="#2aa85a" font-family="Liberation Sans, Arial, sans-serif" font-style="italic" font-size="16.3">2da.</text>
<text x="190.8" y="490.8" fill="#0fa64a" stroke="#0fa64a" stroke-width="0.45" font-family="Liberation Sans, Arial, sans-serif" font-style="italic" font-weight="bold" font-size="22.8">1.007.367</text>
<text x="181.2" y="508.3" text-anchor="end" fill="#e0343c" font-family="Liberation Sans, Arial, sans-serif" font-style="italic" font-size="16.3">3ra.</text>
<text x="190.8" y="512.2" fill="#e3000f" stroke="#e3000f" stroke-width="0.45" font-family="Liberation Sans, Arial, sans-serif" font-style="italic" font-weight="bold" font-size="22.8">424.872</text>
<text x="181.2" y="529.7" text-anchor="end" fill="#3a3d8f" font-family="Liberation Sans, Arial, sans-serif" font-style="italic" font-size="16.3">Dosis anual</text>
<text x="190.8" y="533.6" fill="#2b55a3" stroke="#2b55a3" stroke-width="0.45" font-family="Liberation Sans, Arial, sans-serif" font-style="italic" font-weight="bold" font-size="22.8">86.465</text>
<text x="181.2" y="551.1" text-anchor="end" fill="#a3336f" font-family="Liberation Sans, Arial, sans-serif" font-style="italic" font-size="16.3">Única</text>
<text x="190.8" y="555.0" fill="#454549" stroke="#454549" stroke-width="0.45" font-family="Liberation Sans, Arial, sans-serif" font-style="italic" font-weight="bold" font-size="22.8">171.664</text>
<rect x="152.9" y="574.5" width="110.2" height="29.4" fill="#ec6e4e"/>
<text x="156.2" y="597.6" fill="#fff" stroke="#fff" stroke-width="0.45" font-family="DejaVu Sans, Verdana, sans-serif" font-size="25" textLength="103.8" lengthAdjust="spacingAndGlyphs">ORURO</text>
<text x="176.3" y="628.4" text-anchor="end" fill="#231f20" font-family="Liberation Sans, Arial, sans-serif" font-style="italic" font-size="16.3">1ra.</text>
<text x="184.1" y="632.3" fill="#3e4a6c" stroke="#3e4a6c" stroke-width="0.45" font-family="Liberation Sans, Arial, sans-serif" font-style="italic" font-weight="bold" font-size="22.8">328.795</text>
<text x="176.3" y="649.6" text-anchor="end" fill="#2aa85a" font-family="Liberation Sans, Arial, sans-serif" font-style="italic" font-size="16.3">2da.</text>
<text x="184.1" y="653.5" fill="#0fa64a" stroke="#0fa64a" stroke-width="0.45" font-family="Liberation Sans, Arial, sans-serif" font-style="italic" font-weight="bold" font-size="22.8">270.174</text>
<text x="176.3" y="670.8" text-anchor="end" fill="#e0343c" font-family="Liberation Sans, Arial, sans-serif" font-style="italic" font-size="16.3">3ra.</text>
<text x="184.1" y="674.7" fill="#e3000f" stroke="#e3000f" stroke-width="0.45" font-family="Liberation Sans, Arial, sans-serif" font-style="italic" font-weight="bold" font-size="22.8">88.538</text>
<text x="176.3" y="692.0" text-anchor="end" fill="#3a3d8f" font-family="Liberation Sans, Arial, sans-serif" font-style="italic" font-size="16.3">Dosis anual</text>
<text x="184.1" y="695.9" fill="#2b55a3" stroke="#2b55a3" stroke-width="0.45" font-family="Liberation Sans, Arial, sans-serif" font-style="italic" font-weight="bold" font-size="22.8">14.289</text>
<text x="176.3" y="713.2" text-anchor="end" fill="#a3336f" font-family="Liberation Sans, Arial, sans-serif" font-style="italic" font-size="16.3">Única</text>
<text x="184.1" y="717.1" fill="#454549" stroke="#454549" stroke-width="0.45" font-family="Liberation Sans, Arial, sans-serif" font-style="italic" font-weight="bold" font-size="22.8">32.657</text>
<rect x="315.4" y="664.5" width="106.0" height="31.4" fill="#ec6e4e"/>
<text x="318.4" y="690.5" fill="#fff" stroke="#fff" stroke-width="0.45" font-family="DejaVu Sans, Verdana, sans-serif" font-size="25" textLength="99.0" lengthAdjust="spacingAndGlyphs">POTOSÍ</text>
<text x="312.5" y="717.4" text-anchor="end" fill="#231f20" font-family="Liberation Sans, Arial, sans-serif" font-style="italic" font-size="16.3">1ra.</text>
<text x="318.3" y="721.3" fill="#3e4a6c" stroke="#3e4a6c" stroke-width="0.45" font-family="Liberation Sans, Arial, sans-serif" font-style="italic" font-weight="bold" font-size="22.8">381.146</text>
<text x="312.5" y="738.7" text-anchor="end" fill="#2aa85a" font-family="Liberation Sans, Arial, sans-serif" font-style="italic" font-size="16.3">2da.</text>
<text x="318.3" y="742.6" fill="#0fa64a" stroke="#0fa64a" stroke-width="0.45" font-family="Liberation Sans, Arial, sans-serif" font-style="italic" font-weight="bold" font-size="22.8">295.906</text>
<text x="312.5" y="760.0" text-anchor="end" fill="#e0343c" font-family="Liberation Sans, Arial, sans-serif" font-style="italic" font-size="16.3">3ra.</text>
<text x="318.3" y="763.9" fill="#e3000f" stroke="#e3000f" stroke-width="0.45" font-family="Liberation Sans, Arial, sans-serif" font-style="italic" font-weight="bold" font-size="22.8">110.999</text>
<text x="312.5" y="781.3" text-anchor="end" fill="#3a3d8f" font-family="Liberation Sans, Arial, sans-serif" font-style="italic" font-size="16.3">Dosis anual</text>
<text x="318.3" y="785.2" fill="#2b55a3" stroke="#2b55a3" stroke-width="0.45" font-family="Liberation Sans, Arial, sans-serif" font-style="italic" font-weight="bold" font-size="22.8">18.814</text>
<text x="312.5" y="802.6" text-anchor="end" fill="#a3336f" font-family="Liberation Sans, Arial, sans-serif" font-style="italic" font-size="16.3">Única</text>
<text x="318.3" y="806.5" fill="#454549" stroke="#454549" stroke-width="0.45" font-family="Liberation Sans, Arial, sans-serif" font-style="italic" font-weight="bold" font-size="22.8">76.513</text>
<rect x="717" y="292" width="199.2" height="31.4" fill="#ec6e4e"/>
<text x="723.2" y="317.6" fill="#fff" stroke="#fff" stroke-width="0.45" font-family="DejaVu Sans, Verdana, sans-serif" font-size="25" textLength="187.6" lengthAdjust="spacingAndGlyphs">SANTA CRUZ</text>
<text x="804" y="345.5" text-anchor="end" fill="#231f20" font-family="Liberation Sans, Arial, sans-serif" font-style="italic" font-size="16.3">1ra.</text>
<text x="810.8" y="349.4" fill="#3e4a6c" stroke="#3e4a6c" stroke-width="0.45" font-family="Liberation Sans, Arial, sans-serif" font-style="italic" font-weight="bold" font-size="22.8">1.812.882</text>
<text x="804" y="366.7" text-anchor="end" fill="#2aa85a" font-family="Liberation Sans, Arial, sans-serif" font-style="italic" font-size="16.3">2da.</text>
<text x="810.8" y="370.6" fill="#0fa64a" stroke="#0fa64a" stroke-width="0.45" font-family="Liberation Sans, Arial, sans-serif" font-style="italic" font-weight="bold" font-size="22.8">1.467.627</text>
<text x="804" y="387.9" text-anchor="end" fill="#e0343c" font-family="Liberation Sans, Arial, sans-serif" font-style="italic" font-size="16.3">3ra.</text>
<text x="810.8" y="391.8" fill="#e3000f" stroke="#e3000f" stroke-width="0.45" font-family="Liberation Sans, Arial, sans-serif" font-style="italic" font-weight="bold" font-size="22.8">576.744</text>
<text x="804" y="409.1" text-anchor="end" fill="#3a3d8f" font-family="Liberation Sans, Arial, sans-serif" font-style="italic" font-size="16.3">Dosis anual</text>
<text x="810.8" y="413.0" fill="#2b55a3" stroke="#2b55a3" stroke-width="0.45" font-family="Liberation Sans, Arial, sans-serif" font-style="italic" font-weight="bold" font-size="22.8">90.102</text>
<text x="804" y="430.3" text-anchor="end" fill="#a3336f" font-family="Liberation Sans, Arial, sans-serif" font-style="italic" font-size="16.3">Única</text>
<text x="810.8" y="434.2" fill="#454549" stroke="#454549" stroke-width="0.45" font-family="Liberation Sans, Arial, sans-serif" font-style="italic" font-weight="bold" font-size="22.8">342.363</text>
<rect x="713.9" y="569.6" width="194.6" height="29.9" fill="#ec6e4e"/>
<text x="716.5" y="592.8" fill="#fff" stroke="#fff" stroke-width="0.45" font-family="DejaVu Sans, Verdana, sans-serif" font-size="25" textLength="189.5" lengthAdjust="spacingAndGlyphs">CHUQUISACA</text>
<text x="798.3" y="621.6" text-anchor="end" fill="#231f20" font-family="Liberation Sans, Arial, sans-serif" font-style="italic" font-size="16.3">1ra.</text>
<text x="806" y="625.5" fill="#3e4a6c" stroke="#3e4a6c" stroke-width="0.45" font-family="Liberation Sans, Arial, sans-serif" font-style="italic" font-weight="bold" font-size="22.8">364.161</text>
<text x="798.3" y="642.8" text-anchor="end" fill="#2aa85a" font-family="Liberation Sans, Arial, sans-serif" font-style="italic" font-size="16.3">2da.</text>
<text x="806" y="646.7" fill="#0fa64a" stroke="#0fa64a" stroke-width="0.45" font-family="Liberation Sans, Arial, sans-serif" font-style="italic" font-weight="bold" font-size="22.8">313.085</text>
<text x="798.3" y="664.0" text-anchor="end" fill="#e0343c" font-family="Liberation Sans, Arial, sans-serif" font-style="italic" font-size="16.3">3ra.</text>
<text x="806" y="667.9" fill="#e3000f" stroke="#e3000f" stroke-width="0.45" font-family="Liberation Sans, Arial, sans-serif" font-style="italic" font-weight="bold" font-size="22.8">138.813</text>
<text x="798.3" y="685.2" text-anchor="end" fill="#3a3d8f" font-family="Liberation Sans, Arial, sans-serif" font-style="italic" font-size="16.3">Dosis anual</text>
<text x="806" y="689.1" fill="#2b55a3" stroke="#2b55a3" stroke-width="0.45" font-family="Liberation Sans, Arial, sans-serif" font-style="italic" font-weight="bold" font-size="22.8">32.211</text>
<text x="798.3" y="706.4" text-anchor="end" fill="#a3336f" font-family="Liberation Sans, Arial, sans-serif" font-style="italic" font-size="16.3">Única</text>
<text x="806" y="710.3" fill="#454549" stroke="#454549" stroke-width="0.45" font-family="Liberation Sans, Arial, sans-serif" font-style="italic" font-weight="bold" font-size="22.8">39.238</text>
<rect x="579.9" y="658.4" width="114.7" height="31.8" fill="#ec6e4e"/>
<text x="585.7" y="684" fill="#fff" stroke="#fff" stroke-width="0.45" font-family="DejaVu Sans, Verdana, sans-serif" font-size="25" textLength="102.0" lengthAdjust="spacingAndGlyphs">TARIJA</text>
<text x="612.6" y="712.9" text-anchor="end" fill="#231f20" font-family="Liberation Sans, Arial, sans-serif" font-style="italic" font-size="16.3">1ra.</text>
<text x="619.8" y="716.8" fill="#3e4a6c" stroke="#3e4a6c" stroke-width="0.45" font-family="Liberation Sans, Arial, sans-serif" font-style="italic" font-weight="bold" font-size="22.8">366.685</text>
<text x="612.6" y="734.4" text-anchor="end" fill="#2aa85a" font-family="Liberation Sans, Arial, sans-serif" font-style="italic" font-size="16.3">2da.</text>
<text x="619.8" y="738.3" fill="#0fa64a" stroke="#0fa64a" stroke-width="0.45" font-family="Liberation Sans, Arial, sans-serif" font-style="italic" font-weight="bold" font-size="22.8">312.824</text>
<text x="612.6" y="755.9" text-anchor="end" fill="#e0343c" font-family="Liberation Sans, Arial, sans-serif" font-style="italic" font-size="16.3">3ra.</text>
<text x="619.8" y="759.8" fill="#e3000f" stroke="#e3000f" stroke-width="0.45" font-family="Liberation Sans, Arial, sans-serif" font-style="italic" font-weight="bold" font-size="22.8">125.550</text>
<text x="612.6" y="777.4" text-anchor="end" fill="#3a3d8f" font-family="Liberation Sans, Arial, sans-serif" font-style="italic" font-size="16.3">Dosis anual</text>
<text x="619.8" y="781.3" fill="#2b55a3" stroke="#2b55a3" stroke-width="0.45" font-family="Liberation Sans, Arial, sans-serif" font-style="italic" font-weight="bold" font-size="22.8">22.956</text>
<text x="612.6" y="798.9" text-anchor="end" fill="#a3336f" font-family="Liberation Sans, Arial, sans-serif" font-style="italic" font-size="16.3">Única</text>
<text x="619.8" y="802.8" fill="#454549" stroke="#454549" stroke-width="0.45" font-family="Liberation Sans, Arial, sans-serif" font-style="italic" font-weight="bold" font-size="22.8">37.956</text>
<rect x="944.75" y="123.75" width="314.5" height="79.0" rx="7" fill="#fff" stroke="#8e2a8f" stroke-width="1.5"/>
<rect x="944" y="153" width="316" height="50.5" rx="7" fill="#8e2a8f"/>
<rect x="948" y="153" width="308" height="8" fill="#8e2a8f"/>
<text x="1104" y="145.4" text-anchor="middle" fill="#8e2a8f" font-family="Liberation Sans, Arial, sans-serif" font-style="italic" font-weight="bold" font-size="25">Total 1ra. dosis</text>
<text x="1108" y="192.7" text-anchor="middle" fill="#fff" font-family="Liberation Sans, Arial, sans-serif" font-weight="bold" font-size="45.5" letter-spacing="0.4">6.308.401</text>
<rect x="947.75" y="210.75" width="313.5" height="74.5" rx="7" fill="#fff" stroke="#12a551" stroke-width="1.5"/>
<rect x="947" y="238.5" width="315" height="47.5" rx="7" fill="#12a551"/>
<rect x="951" y="238.5" width="307" height="8" fill="#12a551"/>
<text x="1114" y="231.6" text-anchor="middle" fill="#12a551" font-family="Liberation Sans, Arial, sans-serif" font-style="italic" font-weight="bold" font-size="25">Total 2da. dosis</text>
<text x="1111" y="275.5" text-anchor="middle" fill="#fff" font-family="Liberation Sans, Arial, sans-serif" font-weight="bold" font-size="45.5" letter-spacing="0.4">5.090.232</text>
<rect x="947.75" y="293.45" width="313.5" height="72.80000000000001" rx="7" fill="#fff" stroke="#e31e2d" stroke-width="1.5"/>
<rect x="947" y="321" width="315" height="46" rx="7" fill="#e31e2d"/>
<rect x="951" y="321" width="307" height="8" fill="#e31e2d"/>
<text x="1113" y="315.6" text-anchor="middle" fill="#e31e2d" font-family="Liberation Sans, Arial, sans-serif" font-style="italic" font-weight="bold" font-size="25">Total 3ra. dosis</text>
<text x="1111" y="358.6" text-anchor="middle" fill="#fff" font-family="Liberation Sans, Arial, sans-serif" font-weight="bold" font-size="45.5" letter-spacing="0.4">1.978.517</text>
<rect x="948.75" y="374.55" width="314.5" height="74.69999999999999" rx="7" fill="#fff" stroke="#2e3492" stroke-width="1.5"/>
<rect x="948" y="404" width="316" height="46" rx="7" fill="#2e3492"/>
<rect x="952" y="404" width="308" height="8" fill="#2e3492"/>
<text x="1107" y="397.9" text-anchor="middle" fill="#2e3492" font-family="Liberation Sans, Arial, sans-serif" font-style="italic" font-weight="bold" font-size="25">Total Dosis Anual (4ta)</text>
<text x="1107" y="441.8" text-anchor="middle" fill="#fff" font-family="Liberation Sans, Arial, sans-serif" font-weight="bold" font-size="45.5" letter-spacing="0.4">366.390</text>
<rect x="948.75" y="458.75" width="314.5" height="74.5" rx="7" fill="#fff" stroke="#9e1f63" stroke-width="1.5"/>
<rect x="948" y="487" width="316" height="47" rx="7" fill="#9e1f63"/>
<rect x="952" y="487" width="308" height="8" fill="#9e1f63"/>
<text x="1115.7" y="481" text-anchor="middle" fill="#9e1f63" font-family="Liberation Sans, Arial, sans-serif" font-style="italic" font-weight="bold" font-size="25">Total dósis única</text>
<text x="1110" y="526.4" text-anchor="middle" fill="#fff" font-family="Liberation Sans, Arial, sans-serif" font-weight="bold" font-size="45.5" letter-spacing="0.4">998.652</text>
<rect x="945.75" y="542.75" width="314.5" height="77.0" rx="7" fill="#fff" stroke="#1c1b1c" stroke-width="1.5"/>
<rect x="945" y="570" width="316" height="50.5" rx="7" fill="#1c1b1c"/>
<rect x="949" y="570" width="308" height="8" fill="#1c1b1c"/>
<text x="1103" y="564" text-anchor="middle" fill="#1c1b1c" font-family="Liberation Sans, Arial, sans-serif" font-style="italic" font-weight="bold" font-size="20">TOTAL DOSIS APLICADAS</text>
<text x="1100.7" y="608.9" text-anchor="middle" fill="#fff" font-family="Liberation Sans, Arial, sans-serif" font-weight="bold" font-size="45.5" letter-spacing="0.6">14.742.192</text>
<rect x="945.75" y="626.15" width="314.5" height="92.10000000000002" rx="8" fill="#fff" stroke="#f39a4a" stroke-width="1.5"/>
<text x="1102.5" y="646.4" text-anchor="middle" fill="#e2553a" font-family="Liberation Sans, Arial, sans-serif" font-style="italic" font-weight="bold" font-size="19.4">Dosis aplicadas de 12 a 17 años</text>
<rect x="947.5" y="655" width="159.0" height="62.5" rx="5" fill="#f7923b"/>
<rect x="1112" y="655" width="147.5" height="62.5" rx="5" fill="#f7923b"/>
<text x="1028.5" y="677" text-anchor="middle" fill="#fff" stroke="#fff" stroke-width="0.55" font-family="Liberation Sans, Arial, sans-serif" font-style="italic" font-size="20.5">1ra. dósis</text>
<text x="1185.75" y="677" text-anchor="middle" fill="#fff" stroke="#fff" stroke-width="0.55" font-family="Liberation Sans, Arial, sans-serif" font-style="italic" font-size="20.5">2da. dósis</text>
<text x="1029.0" y="711" text-anchor="middle" fill="#fff" font-family="Liberation Sans, Arial, sans-serif" font-weight="bold" font-size="34.5">788.038</text>
<text x="1187.75" y="711" text-anchor="middle" fill="#fff" font-family="Liberation Sans, Arial, sans-serif" font-weight="bold" font-size="34.5">614.685</text>
<rect x="945.75" y="723.75" width="314.5" height="91.5" rx="8" fill="#f9ec35" stroke="#2c7fc0" stroke-width="1.5"/>
<text x="1102.5" y="743.5" text-anchor="middle" fill="#1f6f8e" font-family="Liberation Sans, Arial, sans-serif" font-style="italic" font-weight="bold" font-size="20.2">Dosis aplicadas de 5 a 11 años</text>
<rect x="947.5" y="752" width="159.5" height="62.5" rx="5" fill="#2a79bf"/>
<rect x="1113" y="752" width="146.5" height="62.5" rx="5" fill="#2a79bf"/>
<text x="1028.75" y="772.5" text-anchor="middle" fill="#f9ec35" stroke="#f9ec35" stroke-width="0.55" font-family="Liberation Sans, Arial, sans-serif" font-style="italic" font-size="20.5">1ra. dósis</text>
<text x="1186.25" y="772.5" text-anchor="middle" fill="#f9ec35" stroke="#f9ec35" stroke-width="0.55" font-family="Liberation Sans, Arial, sans-serif" font-style="italic" font-size="20.5">2da. dósis</text>
<text x="1029.25" y="809.3" text-anchor="middle" fill="#f9ec35" font-family="Liberation Sans, Arial, sans-serif" font-weight="bold" font-size="34.5">791.283</text>
<text x="1188.25" y="809.3" text-anchor="middle" fill="#f9ec35" font-family="Liberation Sans, Arial, sans-serif" font-weight="bold" font-size="34.5">555.460</text>
<rect x="732.4" y="730.7" width="202.4" height="84.7" fill="#d9b58f"/>
<text x="833.6" y="749.2" text-anchor="middle" fill="#2d6ea8" font-family="Liberation Sans, Arial, sans-serif" font-style="italic" font-size="16.5"><tspan font-weight="bold" fill="#1f5f9a">Nota:</tspan> Las cifras de</text>
<text x="833.6" y="768.1" text-anchor="middle" fill="#2d6ea8" font-family="Liberation Sans, Arial, sans-serif" font-style="italic" font-size="16.5">adolescentes y niños ya</text>
<text x="833.6" y="787" text-anchor="middle" fill="#2d6ea8" font-family="Liberation Sans, Arial, sans-serif" font-style="italic" font-size="16.5">están contempladas en el</text>
<text x="833.6" y="805.1" text-anchor="middle" fill="#2d6ea8" font-family="Liberation Sans, Arial, sans-serif" font-style="italic" font-size="16.5">total de dosis aplicadas.</text>
<circle cx="41.3" cy="553.6" r="17.8" fill="#fff" opacity="0.85"/>
<circle cx="41.3" cy="553.6" r="16.1" fill="#2b77be"/>
<text x="21" y="585" fill="#333" stroke="#333" stroke-width="0.4" font-family="DejaVu Sans, Verdana, sans-serif" font-size="10" textLength="36.9" lengthAdjust="spacingAndGlyphs">Segura</text>
<circle cx="39" cy="612.3" r="17.8" fill="#fff" opacity="0.85"/>
<circle cx="39" cy="612.3" r="16.1" fill="#f28c2e"/>
<text x="18.8" y="642.9" fill="#333" stroke="#333" stroke-width="0.4" font-family="DejaVu Sans, Verdana, sans-serif" font-size="10" textLength="42.0" lengthAdjust="spacingAndGlyphs">Gratuita</text>
<circle cx="40.5" cy="668.8" r="17.8" fill="#fff" opacity="0.85"/>
<circle cx="40.5" cy="668.8" r="16.1" fill="#2aa39a"/>
<text x="14.5" y="698.6" fill="#333" stroke="#333" stroke-width="0.4" font-family="DejaVu Sans, Verdana, sans-serif" font-size="10" textLength="52.8" lengthAdjust="spacingAndGlyphs">Voluntaria</text>
<circle cx="40.3" cy="728.4" r="17.8" fill="#fff" opacity="0.85"/>
<circle cx="40.3" cy="728.4" r="16.1" fill="#1b9152"/>
<text x="14.3" y="758" fill="#333" stroke="#333" stroke-width="0.4" font-family="DejaVu Sans, Verdana, sans-serif" font-size="10" textLength="52.4" lengthAdjust="spacingAndGlyphs">Equitativa</text>
<path d="M42,543.7 L50.6,547.0 V554.7 C50.6,559.7 45.5,563.0 42,564.8000000000001 C38.5,563.0 33.4,559.7 33.4,554.7 V547.0 Z" fill="#e3187f" stroke="#fff" stroke-width="1.3"/>
<path d="M38.2,553.4000000000001 L41.2,556.4000000000001 L45.8,551.4000000000001" fill="none" stroke="#fff" stroke-width="2.1" stroke-linecap="round" stroke-linejoin="round"/>
<circle cx="39" cy="612.3" r="9.3" fill="#f7aa48" stroke="#fde6bd" stroke-width="1.7"/>
<path d="M35,613.8 Q39,617.8 43,613.8" fill="none" stroke="#fdd99a" stroke-width="1.3"/>
<circle cx="35.8" cy="609.8" r="1.1" fill="#fdd99a"/><circle cx="42.2" cy="609.8" r="1.1" fill="#fdd99a"/>
<path d="M33.3,664.6 Q32.6,663.6 33.8,663.4 L37.2,665.8 L37.2,670.6 Z" fill="#f3a15a" stroke="#fff" stroke-width="0.7" stroke-linejoin="round"/>
<rect x="37" y="660.5" width="8.6" height="12" rx="1.2" fill="#f08a36" stroke="#fff" stroke-width="0.7"/>
<rect x="37.2" y="658.2" width="2" height="5" rx="1" fill="#f7c18a" stroke="#fff" stroke-width="0.5"/>
<rect x="39.3" y="657.6" width="2" height="5" rx="1" fill="#f7c18a" stroke="#fff" stroke-width="0.5"/>
<rect x="41.4" y="657.6" width="2" height="5" rx="1" fill="#f7c18a" stroke="#fff" stroke-width="0.5"/>
<rect x="43.5" y="658.2" width="2" height="5" rx="1" fill="#f7c18a" stroke="#fff" stroke-width="0.5"/>
<rect x="37.9" y="673" width="7" height="11" fill="#2c62b6" stroke="#fff" stroke-width="0.8"/>
<rect x="37.9" y="675.6" width="7" height="1.3" fill="#fff"/>
<g fill="none" stroke="#fff" stroke-width="1.2" stroke-linecap="round"><path d="M40.3,718.9 V737.0 M33.5,737.4 H47.5 M33.0,720.6 H47.599999999999994"/><path d="M33.0,720.6 L29.799999999999997,730.6 M33.0,720.6 L36.199999999999996,730.6 M47.599999999999994,720.6 L44.4,730.6 M47.599999999999994,720.6 L50.8,730.6"/><path d="M29.499999999999996,730.6 A3.5,2.6 0 0 0 36.5,730.6 Z M44.099999999999994,730.6 A3.5,2.6 0 0 0 51.099999999999994,730.6 Z" fill="#3a5a6a"/></g>
<circle cx="40.3" cy="718.9" r="0.9" fill="#fff"/>
<g transform="translate(42.2 771.5) rotate(-15)">
<rect x="0" y="0" width="108" height="42.5" fill="#1f55a8"/>
<rect x="5" y="4.5" width="98" height="33" fill="#8dc63f"/>
<rect x="-30" y="-2.5" width="16" height="48.5" fill="#1f55a8"/><rect x="-25" y="3" width="5.5" height="37" fill="#e5242b"/>
<rect x="-14.5" y="12" width="14.5" height="20" fill="#1f55a8"/><rect x="-11.5" y="15" width="8" height="14" fill="#f6c12f"/>
<rect x="108" y="6.5" width="11" height="26" fill="#2a7fc2"/><rect x="110" y="10" width="4.5" height="18" fill="#1d8a4a"/>
<rect x="119" y="17.5" width="27" height="3.6" fill="#2a90d2"/>
<text transform="translate(22 18) rotate(-7)" fill="#e8197d" font-family="DejaVu Sans, Verdana, sans-serif" font-weight="bold" font-size="12.5" textLength="52" lengthAdjust="spacingAndGlyphs">Dosis de</text>
<text transform="translate(7 37) rotate(-11)" fill="#1c3f8e" font-family="DejaVu Sans, Verdana, sans-serif" font-weight="bold" font-size="17" textLength="96" lengthAdjust="spacingAndGlyphs">ESPERAN<tspan fill="#2576b5">ZA</tspan></text>
</g>
</svg>
</body></html>
